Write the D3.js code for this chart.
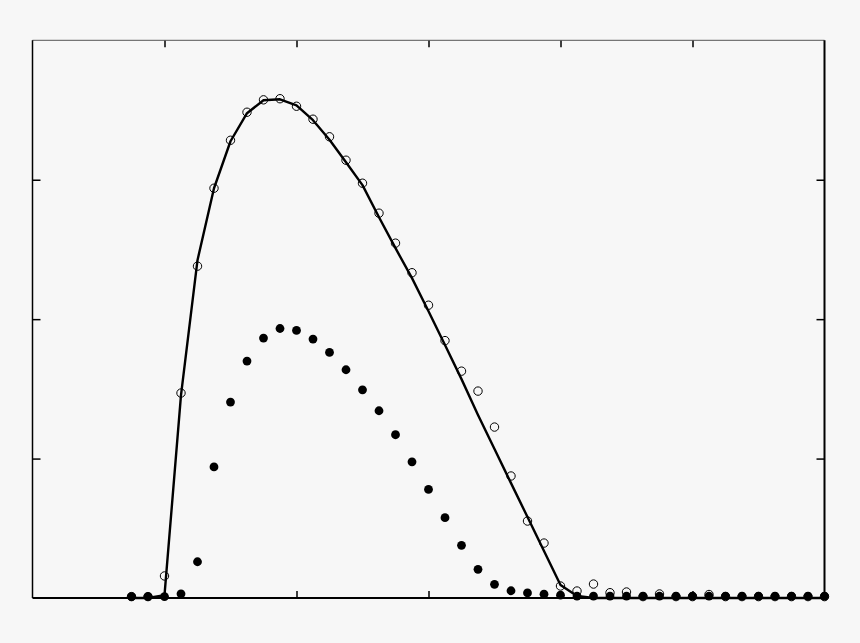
<!DOCTYPE html>
<html>
<head>
<meta charset="utf-8">
<script src="https://cdn.jsdelivr.net/npm/d3@7/dist/d3.min.js"></script>
<style>
  html, body { margin: 0; padding: 0; background: #f7f7f7; }
  svg { display: block; }
</style>
</head>
<body>
<svg id="chart" width="860" height="643"></svg>
<script>
// ---- data ----
const xIndex = d3.range(6, 49); // sample positions 6..48
const curveValues = [0, 0, 0.02, 1.455, 2.423, 2.939, 3.276, 3.477, 3.570, 3.577, 3.534, 3.427, 3.287, 3.125, 2.961,
  2.731, 2.509, 2.294, 2.057, 1.814, 1.570, 1.312, 1.068, 0.824, 0.581, 0.337, 0.093, 0.014,
  0, 0, 0, 0, 0, 0, 0, 0, 0, 0, 0, 0, 0, 0, 0];
const openValues = [0.01, 0.01, 0.158, 1.470, 2.380, 2.939, 3.283, 3.484, 3.573, 3.581, 3.527, 3.434, 3.308, 3.140, 2.975,
  2.760, 2.545, 2.333, 2.100, 1.846, 1.627, 1.484, 1.226, 0.875, 0.552, 0.394, 0.086, 0.050,
  0.100, 0.038, 0.043, 0.01, 0.029, 0.01, 0.01, 0.025, 0.01, 0.01, 0.01, 0.01, 0.01, 0.01, 0.01];
const filledValues = [0.01, 0.01, 0.01, 0.03, 0.26, 0.94, 1.405, 1.699, 1.864, 1.933, 1.919, 1.857, 1.761, 1.637, 1.493,
  1.343, 1.171, 0.977, 0.779, 0.576, 0.378, 0.206, 0.098, 0.052, 0.036, 0.027, 0.02, 0.014,
  0.014, 0.014, 0.014, 0.014, 0.014, 0.014, 0.014, 0.014, 0.014, 0.014, 0.014, 0.014, 0.014, 0.014, 0.014];
const xTicks = [8, 16, 24, 32, 40];
const yTicks = [1, 2, 3];
const xDomain = [0, 48];
const yDomain = [0, 4];

// ---- layout ----
const svg = d3.select("#chart");
const pLeft = 32.5, pRight = 824.5, pTop = 40.3, pBottom = 598;
const x = d3.scaleLinear().domain(xDomain).range([pLeft, pRight]);
const y = d3.scaleLinear().domain(yDomain).range([pBottom, pTop]);

svg.append("rect").attr("width", 860).attr("height", 643).attr("fill", "#f7f7f7");

// axes with inward ticks, no labels
function styleAxis(g, w) {
  g.select(".domain").remove();
  g.selectAll("line").attr("stroke", "#000").attr("stroke-width", w);
  g.selectAll("text").remove();
}
svg.append("g").attr("transform", `translate(0,${pBottom})`)
  .call(d3.axisBottom(x).tickValues(xTicks).tickSize(-7).tickFormat(""))
  .call(g => styleAxis(g, 1.5));
svg.append("g").attr("transform", `translate(0,${pTop})`)
  .call(d3.axisTop(x).tickValues(xTicks).tickSize(-7).tickFormat(""))
  .call(g => styleAxis(g, 1.5));
svg.append("g").attr("transform", `translate(${pLeft},0)`)
  .call(d3.axisLeft(y).tickValues(yTicks).tickSize(-8).tickFormat(""))
  .call(g => styleAxis(g, 1.5));
svg.append("g").attr("transform", `translate(${pRight},0)`)
  .call(d3.axisRight(y).tickValues(yTicks).tickSize(-8).tickFormat(""))
  .call(g => styleAxis(g, 1.5));

// frame
svg.append("line").attr("x1", pLeft).attr("x2", pRight).attr("y1", pTop).attr("y2", pTop)
  .attr("stroke", "#555").attr("stroke-width", 1);
svg.append("line").attr("x1", pLeft).attr("x2", pLeft).attr("y1", pTop).attr("y2", pBottom)
  .attr("stroke", "#000").attr("stroke-width", 1.5);
svg.append("line").attr("x1", pRight).attr("x2", pRight).attr("y1", pTop).attr("y2", pBottom)
  .attr("stroke", "#000").attr("stroke-width", 2);
svg.append("line").attr("x1", pLeft).attr("x2", pRight).attr("y1", pBottom).attr("y2", pBottom)
  .attr("stroke", "#000").attr("stroke-width", 2);

// curve
const lineGen = d3.line().x((d, i) => x(xIndex[i])).y(d => y(d));
svg.append("path").datum(curveValues)
  .attr("d", lineGen)
  .attr("fill", "none").attr("stroke", "#000").attr("stroke-width", 2.4)
  .attr("stroke-linejoin", "round");

// open circles
svg.append("g").selectAll("circle").data(openValues).join("circle")
  .attr("cx", (d, i) => x(xIndex[i])).attr("cy", d => y(d)).attr("r", 4.2)
  .attr("fill", "none").attr("stroke", "#000").attr("stroke-width", 1);

// filled dots
svg.append("g").selectAll("circle").data(filledValues).join("circle")
  .attr("cx", (d, i) => x(xIndex[i])).attr("cy", d => y(d)).attr("r", 4.4)
  .attr("fill", "#000");
</script>
</body>
</html>
